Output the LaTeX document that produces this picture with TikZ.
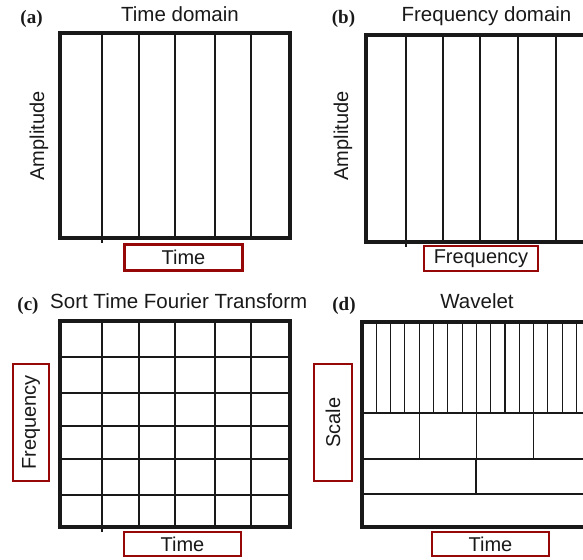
\documentclass[tikz,border=0pt]{standalone}
\usepackage{fontspec}
\setmainfont{Liberation Sans}
\newfontfamily\tagfont{Liberation Serif}
\definecolor{boxred}{RGB}{150,8,8}
\definecolor{ink}{RGB}{25,25,25}
\begin{document}
\begin{tikzpicture}[x=1pt,y=-1pt,
  frame/.style={draw=ink, line width=3.3pt, line join=miter},
  cell/.style={draw=ink, line width=1.1pt},
  axisbox/.style={draw=boxred, line width=2.8pt, inner sep=0pt, text=ink,
    font=\fontsize{20}{24}\selectfont},
  title/.style={font=\fontsize{20.5}{24}\selectfont, text=ink, inner sep=0pt},
  tag/.style={font=\tagfont\bfseries\fontsize{19}{22}\selectfont, text=ink,
    anchor=base, inner sep=0pt},
  axislabel/.style={font=\fontsize{20}{24}\selectfont, text=ink, rotate=90,
    inner sep=0pt}]

\useasboundingbox (0,0) rectangle (583,559);
\clip (0,0) rectangle (583,559);

% ---------- (a) time domain ----------
\node[tag] (taga) at (31.5,24) {(a)};
\node[title, anchor=base] (titlea) at (180,22) {Time domain};
\draw[cell] (102,33) -- (102,243);
\foreach \x in {139,175,215,251} \draw[cell] (\x,33) -- (\x,238);
\draw[frame] (60,33) rectangle (290,238);
\node[axislabel] (ampa) at (39,136) {Amplitude};
\node[axisbox, minimum width=118pt, minimum height=26.5pt] (timea) at (183.5,257.5) {Time};

% ---------- (b) frequency domain ----------
\node[tag] (tagb) at (343.5,24) {(b)};
\node[title, anchor=base] (titleb) at (486.5,22) {Frequency domain};
\draw[cell] (406,35) -- (406,247);
\foreach \x in {443,480,518,556,593} \draw[cell] (\x,35) -- (\x,242);
\draw[frame] (366,35) rectangle (596,242);
\node[axislabel] (ampb) at (343,136) {Amplitude};
\node[axisbox, minimum width=114pt, minimum height=25pt] (freqb) at (481,258.5) {Frequency};

% ---------- (c) short time Fourier transform ----------
\node[tag] (tagc) at (28,310) {(c)};
\node[title, anchor=base west] (titlec) at (50,308) {Sort Time Fourier Transform};
\draw[cell] (102,321) -- (102,532);
\foreach \x in {139,175,215,251} \draw[cell] (\x,321) -- (\x,527);
\foreach \y in {357,393,426,459,495} \draw[cell] (60,\y) -- (290,\y);
\draw[frame] (60,321) rectangle (290,527);
\node[axisbox, minimum width=36pt, minimum height=117pt] (freqc) at (31,422.5) {};
\node[axislabel] (freqctext) at (freqc.center) {Frequency};
\node[axisbox, minimum width=117pt, minimum height=24pt] (timec) at (182.5,544) {Time};

% ---------- (d) wavelet ----------
\node[tag] (tagd) at (344,310) {(d)};
\node[title, anchor=base] (titled) at (477,308) {Wavelet};
% finest scale: narrow cells
\foreach \k in {1,...,16} \draw[cell] ({362+14.3*\k},322) -- ({362+14.3*\k},413);
\draw[cell] (362,413) -- (592,413);
% next scale: four-cell blocks
\foreach \k in {1,2,3} \draw[cell] ({362+57.2*\k},413) -- ({362+57.2*\k},459);
\draw[cell] (362,459) -- (592,459);
% coarser scale: two blocks
\draw[cell] (476,459) -- (476,494);
\draw[cell] (362,494) -- (592,494);
\draw[frame] (362,322) rectangle (592,527);
\node[axisbox, minimum width=38pt, minimum height=117pt] (scaled) at (333,422.5) {};
\node[axislabel] (scaledtext) at (scaled.center) {Scale};
\node[axisbox, minimum width=117pt, minimum height=24pt] (timed) at (490.5,544) {Time};
\end{tikzpicture}
\end{document}
